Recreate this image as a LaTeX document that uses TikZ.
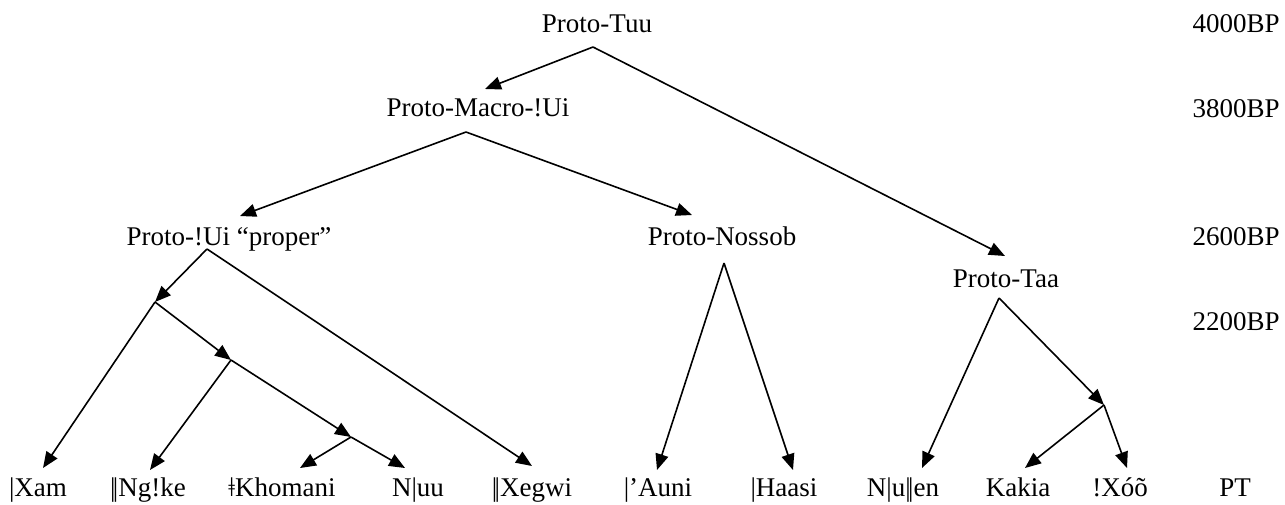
\documentclass[tikz,border=0pt]{standalone}
\usepackage{fontspec}
\setmainfont{Liberation Serif}
\usetikzlibrary{arrows.meta}
% double click letter built from two full-height bars
\newcommand{\dblbar}{|\kern-2.6pt|}

\begin{document}
\begin{tikzpicture}[x=1pt,y=-1pt,
  lbl/.style={anchor=base,inner sep=0pt,font=\fontsize{27}{32}\selectfont},
  branch/.style={line width=1.6pt,-{Triangle[length=16pt,width=13pt]}}]
\useasboundingbox (0,0) rectangle (1285,504);

% proto-languages
\node[lbl] (tuu) at (597,32)  {Proto-Tuu};
\node[lbl] (pmu) at (478,116) {Proto-Macro-!Ui};
\node[lbl] (pui) at (229,245) {Proto-!Ui “proper”};
\node[lbl] (nos) at (722,245) {Proto-Nossob};
\node[lbl] (taa) at (1006,287) {Proto-Taa};

% time scale
\node[lbl] (t4000) at (1236,32)  {4000BP};
\node[lbl] (t3800) at (1236,117) {3800BP};
\node[lbl] (t2600) at (1236,245) {2600BP};
\node[lbl] (t2200) at (1236,330) {2200BP};
\node[lbl] (tpt)   at (1235,496) {PT};

% present-day languages
\node[lbl] (xam) at (38,496)   {|Xam};
\node[lbl] (ngk) at (148,496)  {\dblbar Ng!ke};
\node[lbl] (kho) at (282,496)  {ǂKhomani};
\node[lbl] (nuu) at (418,496)  {N|uu};
\node[lbl] (xeg) at (532,496)  {\dblbar Xegwi};
\node[lbl] (aun) at (658,496)  {|’Auni};
\node[lbl] (haa) at (784,496)  {|Haasi};
\node[lbl] (nue) at (903,496)  {N|u\dblbar en};
\node[lbl] (kak) at (1018,496) {Kakia};
\node[lbl] (xoo) at (1120,496) {!Xóõ};

% split points below each label
\coordinate (tuu-out) at (593,47);
\coordinate (pmu-out) at (466,132);
\coordinate (pui-out) at (207,249);
\coordinate (nos-out) at (724,263);
\coordinate (taa-out) at (999,298);

% arrival points above each label
\coordinate (pmu-in) at (485,89);
\coordinate (taa-in) at (1005,256);
\coordinate (pui-in) at (240,216);
\coordinate (nos-in) at (692,215);
\coordinate (xam-in) at (43,468);
\coordinate (ngk-in) at (150,470);
\coordinate (kho-in) at (300,468);
\coordinate (nuu-in) at (405,468);
\coordinate (xeg-in) at (532,466);
\coordinate (aun-in) at (657,470);
\coordinate (haa-in) at (793,470);
\coordinate (nue-in) at (922,468);
\coordinate (kak-in) at (1025,468);
\coordinate (xoo-in) at (1127,468);

% unlabelled intermediate nodes
\coordinate (b1) at (155,302);
\coordinate (b2) at (231,360);
\coordinate (b3) at (351,437);
\coordinate (b4) at (1104,405);

% the tree
\draw[branch] (tuu-out) -- (pmu-in);
\draw[branch] (tuu-out) -- (taa-in);
\draw[branch] (pmu-out) -- (pui-in);
\draw[branch] (pmu-out) -- (nos-in);
\draw[branch] (pui-out) -- (b1);
\draw[branch] (pui-out) -- (xeg-in);
\draw[branch] (b1) -- (xam-in);
\draw[branch] (b1) -- (b2);
\draw[branch] (b2) -- (ngk-in);
\draw[branch] (b2) -- (b3);
\draw[branch] (b3) -- (kho-in);
\draw[branch] (b3) -- (nuu-in);
\draw[branch] (nos-out) -- (aun-in);
\draw[branch] (nos-out) -- (haa-in);
\draw[branch] (taa-out) -- (nue-in);
\draw[branch] (taa-out) -- (b4);
\draw[branch] (b4) -- (kak-in);
\draw[branch] (b4) -- (xoo-in);
\end{tikzpicture}
\end{document}
